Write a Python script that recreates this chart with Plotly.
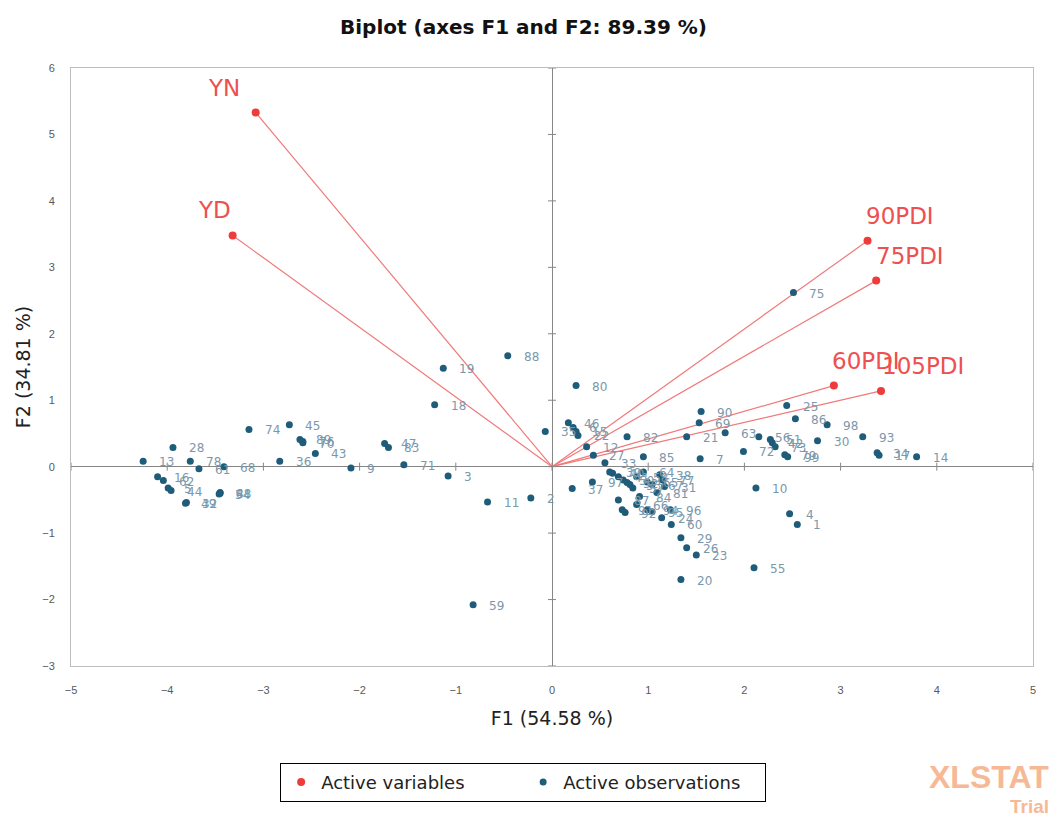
import plotly.graph_objects as go

# ---- Data ----
var_names = ["YN", "YD", "90PDI", "75PDI", "60PDI", "105PDI"]
var_f1 = [-3.08, -3.32, 3.28, 3.37, 2.93, 3.42]
var_f2 = [5.33, 3.48, 3.40, 2.80, 1.22, 1.14]

obs_ids = [1, 2, 3, 4, 5, 6, 7, 8, 9, 10, 11, 12, 13, 14, 15, 16, 17, 18, 19, 20,
           21, 22, 23, 24, 25, 26, 27, 28, 29, 30, 31, 32, 33, 34, 35, 36, 37, 38, 39, 40,
           41, 42, 43, 44, 45, 46, 47, 48, 49, 50, 51, 52, 53, 54, 55, 56, 57, 58, 59, 60,
           61, 62, 63, 64, 65, 66, 67, 68, 69, 70, 71, 72, 73, 74, 75, 76, 77, 78, 79, 80,
           81, 82, 83, 84, 85, 86, 87, 88, 89, 90, 91, 92, 93, 94, 95, 96, 97, 98, 99]
obs_f1 = [2.55, -0.22, -1.08, 2.47, -3.99, 0.22, 1.54, -3.45, -2.09, 2.12,
          -0.67, 0.36, -4.25, 3.79, 0.25, -4.10, 3.40, -1.22, -1.13, 1.34,
          1.40, 0.27, 1.50, 1.14, 2.44, 1.40, 0.43, -3.94, 1.34, 2.76,
          1.17, -3.80, 0.55, 3.38, -0.07, -2.83, 0.21, 1.12, 0.60, 0.63,
          0.69, 2.29, -2.46, -3.96, -2.73, 0.17, -1.74, -3.45, -3.81, 0.74,
          2.27, 0.78, 0.81, -3.46, 2.10, 2.15, 0.84, 0.88, -0.82, 1.24,
          -3.67, -4.04, 1.80, 0.95, 0.99, 0.88, 1.04, -3.41, 1.53, -2.59,
          -1.54, 1.99, 2.32, -3.15, 2.51, -2.59, 1.15, -3.76, 2.42, 0.25,
          1.09, 0.78, -1.70, 0.91, 0.95, 2.53, 0.69, -0.46, -2.62, 1.55,
          0.73, 0.76, 3.23, 0.99, 1.04, 1.23, 0.42, 2.86, 2.45]
obs_f2 = [-0.87, -0.47, -0.14, -0.71, -0.32, 0.59, 0.12, -0.39, -0.02, -0.32,
          -0.53, 0.30, 0.08, 0.15, 0.53, -0.15, 0.17, 0.93, 1.48, -1.70,
          0.45, 0.47, -1.33, -0.77, 0.92, -1.22, 0.17, 0.29, -1.07, 0.39,
          -0.30, -0.54, 0.06, 0.21, 0.53, 0.08, -0.33, -0.12, -0.08, -0.10,
          -0.15, 0.36, 0.20, -0.36, 0.63, 0.66, 0.35, -0.40, -0.55, -0.20,
          0.41, -0.24, -0.27, -0.41, -1.52, 0.45, -0.32, -0.15, -2.08, -0.87,
          -0.03, -0.21, 0.51, -0.08, -0.23, -0.57, -0.27, 0.00, 0.66, 0.36,
          0.03, 0.23, 0.30, 0.56, 2.62, 0.38, -0.20, 0.08, 0.18, 1.22,
          -0.39, 0.45, 0.29, -0.45, 0.15, 0.72, -0.50, 1.67, 0.41, 0.83,
          -0.65, -0.69, 0.45, -0.65, -0.68, -0.65, -0.23, 0.63, 0.15]

x_ticks = [-5, -4, -3, -2, -1, 0, 1, 2, 3, 4, 5]
y_ticks = [-3, -2, -1, 0, 1, 2, 3, 4, 5, 6]

# ---- Styles ----
RED = "#ee3b3b"
RED_LINE = "#f07a7a"
RED_TXT = "#ef4f4f"
BLUE = "#1f5c7a"
BLUE_TXT = "#7b98ab"
WIDE = "DejaVu Sans, Verdana, sans-serif"
var_anchor = ["right", "right", "left", "left", "left", "left"]
var_xshift = [-14, 0, -4, -2, -4, -1]

fig = go.Figure()

# Vectors from origin
for i in range(len(var_names)):
    fig.add_trace(go.Scatter(x=[0, var_f1[i]], y=[0, var_f2[i]], mode="lines",
                             line=dict(color=RED_LINE, width=1.2),
                             showlegend=False, hoverinfo="skip"))

fig.add_trace(go.Scatter(x=var_f1, y=var_f2, mode="markers", name="Active variables",
                         marker=dict(color=RED, size=8)))

fig.add_trace(go.Scatter(x=obs_f1, y=obs_f2, mode="markers", name="Active observations",
                         marker=dict(color=BLUE, size=7)))

for i, lab in enumerate(var_names):
    fig.add_annotation(x=var_f1[i], y=var_f2[i], text=lab, showarrow=False,
                       xanchor=var_anchor[i], xshift=var_xshift[i], yanchor="middle", yshift=25,
                       font=dict(family=WIDE, size=23, color=RED_TXT))

for i, lab in enumerate(obs_ids):
    fig.add_annotation(x=obs_f1[i], y=obs_f2[i], text=str(lab), showarrow=False,
                       xanchor="left", xshift=14, yshift=-1,
                       font=dict(family=WIDE, size=12, color=BLUE_TXT))

# Small ticks on the zero lines
for t in x_ticks:
    fig.add_shape(type="line", xref="x", yref="y", x0=t, x1=t, ysizemode="pixel",
                  yanchor=0, y0=-4, y1=4, line=dict(color="#868686", width=1))
for t in y_ticks:
    fig.add_shape(type="line", xref="x", yref="y", y0=t, y1=t, xsizemode="pixel",
                  xanchor=0, x0=-4, x1=4, line=dict(color="#868686", width=1))

fig.add_annotation(xref="paper", yref="paper", x=1.019, y=-0.152, xanchor="right", yanchor="top",
                   text="<b>XLSTAT</b>", showarrow=False,
                   font=dict(family="Liberation Sans, Arial, sans-serif", size=32, color="#f7b995"))
fig.add_annotation(xref="paper", yref="paper", x=1.019, y=-0.214, xanchor="right", yanchor="top",
                   text="<b>Trial</b>", showarrow=False,
                   font=dict(family="Liberation Sans, Arial, sans-serif", size=19, color="#f7b995"))

axis_common = dict(showgrid=False, zeroline=True, zerolinecolor="#868686", zerolinewidth=1,
                   showline=True, linecolor="#bdbdbd", linewidth=1, mirror=True, automargin=False,
                   ticks="", tickfont=dict(family="Liberation Sans Narrow, Liberation Sans, sans-serif",
                                           size=11, color="#595959"))

# The page body adds an 8px offset, so the figure is sized to fit the window with it.
fig.update_layout(
    width=1052, height=810,
    margin=dict(l=63, r=27, t=60, b=152),
    paper_bgcolor="white", plot_bgcolor="white",
    title=dict(text="<b>Biplot (axes F1 and F2: 89.39 %)</b>", x=0.49, xanchor="center",
               y=0.977, yanchor="middle",
               font=dict(family=WIDE, size=20, color="#111111")),
    xaxis=dict(range=[-5, 5], tickvals=x_ticks, ticklabelstandoff=14,
               title=dict(text="F1 (54.58 %)", standoff=16,
                          font=dict(family=WIDE, size=19, color="#222222")),
               **axis_common),
    yaxis=dict(range=[-3, 6], tickvals=y_ticks, ticklabelstandoff=13,
               title=dict(text="F2 (34.81 %)", standoff=6,
                          font=dict(family=WIDE, size=19, color="#222222")),
               **axis_common),
    legend=dict(orientation="h", x=0.47, xanchor="center", y=-0.162, yanchor="top",
                bordercolor="#000000", borderwidth=1, bgcolor="white",
                entrywidth=197, itemsizing="trace",
                font=dict(family=WIDE, size=18, color="#222222")),
    showlegend=True,
)

fig.write_html("out.html")
